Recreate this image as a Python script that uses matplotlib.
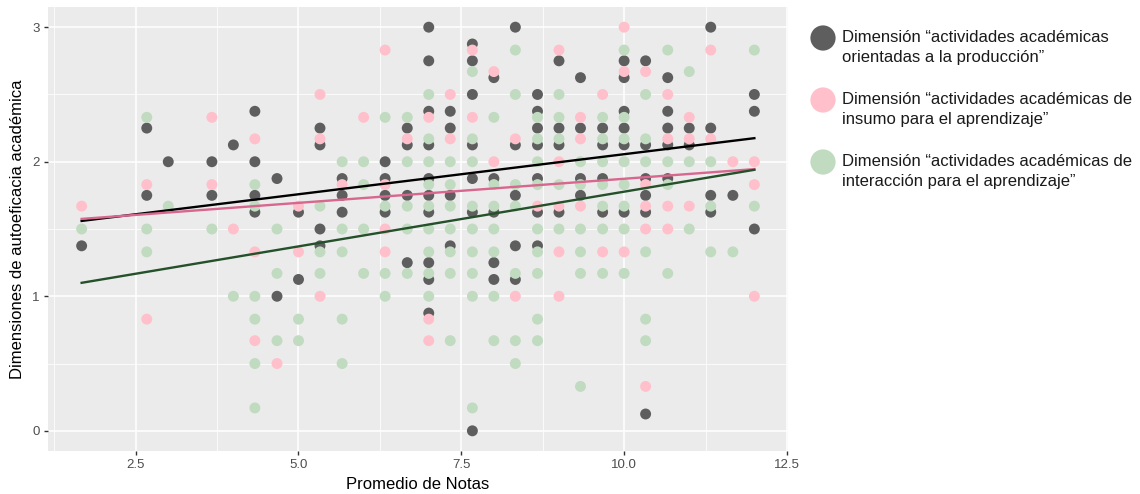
import numpy as np
import matplotlib
matplotlib.use('Agg')
import matplotlib.pyplot as plt

plt.rcParams['font.family'] = ['Liberation Sans', 'DejaVu Sans']

# Average grade for each student group (x axis)
grades = [1.67, 2.67, 3.0, 3.67, 4.0, 4.33, 4.67, 5.0, 5.33, 5.67, 6.0, 6.33, 6.67, 7.0,
          7.33, 7.67, 8.0, 8.33, 8.67, 9.0, 9.33, 9.67, 10.0, 10.33, 10.67, 11.0,
          11.33, 11.67, 12.0]

# Scores per grade for each self-efficacy dimension
produccion = [
    [1.375], [2.25, 1.75], [2.0], [2.0, 1.75], [2.125], [2.375, 2.0, 1.75, 1.625],
    [1.875, 1.0], [1.625, 1.125], [2.25, 2.125, 1.5, 1.375], [1.875, 1.75, 1.625], [],
    [2.0, 1.875, 1.75, 1.625], [2.25, 2.125, 1.75, 1.25],
    [3.0, 2.75, 2.375, 2.125, 1.875, 1.75, 1.625, 1.25, 1.125, 0.875],
    [2.375, 2.25, 1.75, 1.375], [2.875, 2.75, 2.5, 2.125, 1.875, 1.625, 0.0],
    [2.625, 1.875, 1.625, 1.25, 1.125], [3.0, 2.125, 1.75, 1.375, 1.125],
    [2.5, 2.375, 2.25, 2.125, 1.875, 1.625, 1.375], [2.75, 2.25, 2.125, 1.625],
    [2.625, 2.25, 1.875, 1.75], [2.25, 2.125, 1.875, 1.625],
    [2.75, 2.625, 2.375, 2.25, 2.125, 1.625], [2.75, 2.125, 1.875, 1.75, 1.625, 0.125],
    [2.625, 2.375, 2.25, 2.125, 1.875], [2.25, 2.125], [3.0, 2.25, 1.75, 1.625],
    [1.75], [2.5, 2.375, 1.5],
]
insumo = [
    [1.67], [1.83, 0.83], [], [2.33, 1.83], [1.5], [2.17, 1.33, 0.67], [0.5],
    [1.67, 1.33], [2.5, 2.17, 1.0], [1.83], [2.33], [2.83, 1.83, 1.5, 1.33], [2.17],
    [2.33, 0.83, 0.67], [2.5, 2.17], [2.83, 2.33], [2.67, 2.0], [2.17, 1.0], [1.67],
    [2.83, 2.0, 1.67, 1.33, 1.0], [2.33, 2.17, 1.67], [2.5, 1.33], [3.0, 2.67, 1.33],
    [2.67, 1.83, 1.67, 1.5, 0.33], [2.5, 2.17, 1.67, 1.5], [2.33, 2.17, 1.67],
    [2.83, 2.17], [2.0], [2.0, 1.83, 1.0],
]
interaccion = [
    [1.5], [2.33, 1.5, 1.33], [1.67], [1.5], [1.0], [1.83, 1.67, 1.0, 0.83, 0.5, 0.17],
    [1.5, 1.17, 0.67], [0.83, 0.67], [1.67, 1.33, 1.17], [2.0, 1.5, 1.33, 0.83, 0.5],
    [2.0, 1.83, 1.5, 1.17], [2.33, 1.67, 1.17, 1.0], [2.33, 2.0, 1.67, 1.5, 1.17],
    [2.5, 2.17, 2.0, 1.83, 1.67, 1.5, 1.33, 1.17, 1.0],
    [2.0, 1.83, 1.67, 1.5, 1.33, 1.17, 0.67],
    [2.67, 2.17, 2.0, 1.67, 1.5, 1.33, 1.17, 1.0, 0.17],
    [2.33, 1.83, 1.67, 1.5, 1.33, 1.0, 0.67], [2.83, 2.5, 1.83, 1.67, 1.17, 0.67, 0.5],
    [2.33, 2.17, 2.0, 1.83, 1.5, 1.33, 1.17, 0.83, 0.67], [2.5, 2.33, 2.17, 1.83, 1.5],
    [2.0, 1.83, 1.5, 1.33, 1.17, 0.33], [2.33, 2.17, 2.0, 1.83, 1.67, 1.5, 1.17],
    [2.83, 2.33, 2.17, 2.0, 1.83, 1.67, 1.5, 1.17], [2.5, 2.17, 2.0, 1.33, 0.83, 0.67],
    [2.83, 2.0, 1.83, 1.17], [2.67, 2.0, 1.5], [2.0, 1.67, 1.33], [1.33], [2.83, 1.67],
]

# Linear fit lines (ends at the min and max grade)
fit_x = [1.67, 12.0]
fit_produccion = [1.56, 2.175]
fit_insumo = [1.575, 1.945]
fit_interaccion = [1.10, 1.94]

labels = [
    'Dimensión “actividades académicas\norientadas a la producción”',
    'Dimensión “actividades académicas de\ninsumo para el aprendizaje”',
    'Dimensión “actividades académicas de\ninteracción para el aprendizaje”',
]
point_colors = ['#5e5e5e', '#ffc0cb', '#c0dbc0']
line_colors = ['#000000', '#d8668e', '#24502a']


def flatten(groups):
    xs, ys = [], []
    for g, vals in zip(grades, groups):
        xs += [g] * len(vals)
        ys += vals
    return np.array(xs), np.array(ys)


fig = plt.figure(figsize=(11.4, 4.94), dpi=100)
ax = fig.add_axes([48 / 1140, 43 / 494, 740 / 1140, 444 / 494])
ax.set_facecolor('#ebebeb')
for s in ax.spines.values():
    s.set_visible(False)

for groups, c in zip([produccion, insumo, interaccion], point_colors):
    x, y = flatten(groups)
    ax.scatter(x, y, s=62, color=c, edgecolors='none', zorder=3)

for fy, c in zip([fit_produccion, fit_insumo, fit_interaccion], line_colors):
    ax.plot(fit_x, fy, color=c, lw=1.7, zorder=4)

# ggplot-like limits and grid
xr = max(grades) - min(grades)
ax.set_xlim(min(grades) - 0.05 * xr, max(grades) + 0.05 * xr)
ax.set_ylim(-0.15, 3.15)
ax.set_xticks([2.5, 5.0, 7.5, 10.0, 12.5])
ax.set_xticklabels(['2.5', '5.0', '7.5', '10.0', '12.5'])
ax.set_yticks([0, 1, 2, 3])
ax.set_xticks([1.25, 3.75, 6.25, 8.75, 11.25], minor=True)
ax.set_yticks([0.5, 1.5, 2.5], minor=True)
ax.grid(which='major', color='white', lw=1.1, zorder=0)
ax.grid(which='minor', color='white', lw=0.55, zorder=0)
ax.set_axisbelow(True)
ax.tick_params(which='major', length=3, width=1, color='#333333',
               labelcolor='#4d4d4d', labelsize=9.5, pad=3)
ax.tick_params(which='minor', length=0)

ax.set_xlabel('Promedio de Notas', fontsize=12, labelpad=4)
ax.set_ylabel('Dimensiones de autoeficacia académica', fontsize=12, labelpad=5)

# Legend drawn in pixel coordinates to the right of the panel
lg = fig.add_axes([0, 0, 1, 1], facecolor='none')
lg.set_xlim(0, 1140)
lg.set_ylim(494, 0)
lg.axis('off')
for i, (lab, c) in enumerate(zip(labels, point_colors)):
    yc = 38 + i * 62
    lg.scatter([823], [yc], s=330, color=c, edgecolors='none')
    lg.text(842, yc - 8, lab, fontsize=12, color='#1a1a1a', va='top',
            ha='left', linespacing=1.4)

fig.savefig('out.png', dpi=100)
